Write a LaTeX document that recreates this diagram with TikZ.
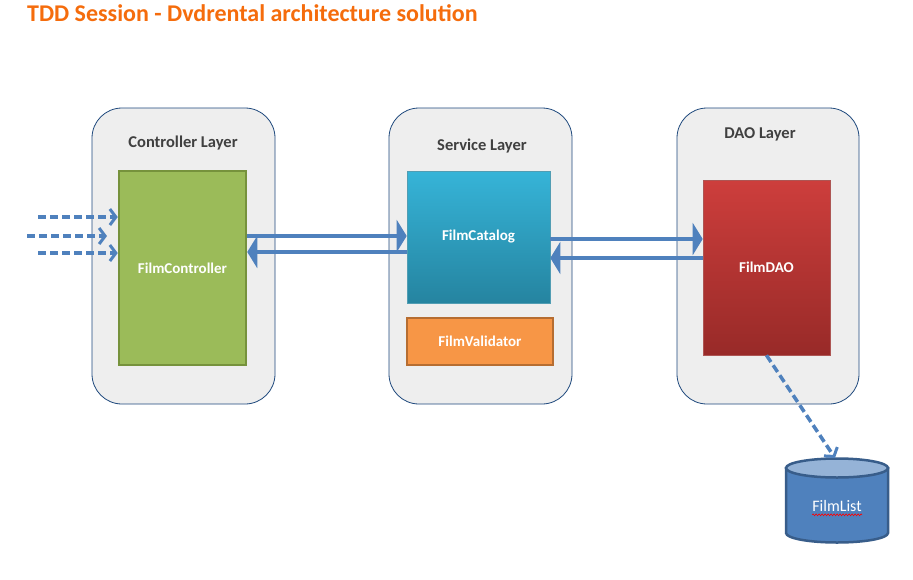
\documentclass[tikz,border=0pt]{standalone}
\usepackage{fontspec}
\setmainfont{Carlito}
\usetikzlibrary{arrows.meta,decorations.pathmorphing}
\definecolor{titleorange}{RGB}{245,108,12}
\definecolor{layerfill}{RGB}{238,238,238}
\definecolor{layerborder}{RGB}{31,73,125}
\definecolor{labelgray}{RGB}{64,64,64}
\definecolor{greenfill}{RGB}{155,187,89}
\definecolor{greenborder}{RGB}{118,146,60}
\definecolor{cattop}{RGB}{54,180,216}
\definecolor{catbot}{RGB}{37,132,160}
\definecolor{orangefill}{RGB}{247,150,70}
\definecolor{orangeborder}{RGB}{182,109,49}
\definecolor{daotop}{RGB}{205,62,60}
\definecolor{daobot}{RGB}{152,42,40}
\definecolor{arrowblue}{RGB}{79,129,189}
\definecolor{dbblue}{RGB}{79,129,189}
\definecolor{dblight}{RGB}{149,179,215}
\definecolor{dbborder}{RGB}{56,93,138}
\tikzset{
  layerbox/.style={draw=layerborder, line width=0.8pt, fill=layerfill, rounded corners=30pt, inner sep=0pt},
  layerlabel/.style={text=labelgray, font=\bfseries\fontsize{16.5}{19}\selectfont, inner sep=0pt},
  boxtext/.style={text=white, font=\bfseries\fontsize{15}{18}\selectfont},
  greenbox/.style={draw=greenborder, line width=2.5pt, fill=greenfill, boxtext},
  catbox/.style={top color=cattop, bottom color=catbot, draw=catbot!80!white, line width=0.6pt, boxtext},
  orangebox/.style={draw=orangeborder, line width=2.5pt, fill=orangefill, boxtext},
  daobox/.style={top color=daotop, bottom color=daobot, draw=daobot!80!white, line width=0.6pt, boxtext},
  solidarrow/.style={draw=arrowblue, line width=3.5pt, -{Triangle[length=10pt,width=32pt]}},
  dasharrow/.style={draw=arrowblue, line width=3.5pt, dash pattern=on 8pt off 4pt, -{Straight Barb[length=6pt,width=16pt,line width=3pt]}},
}
\begin{document}
\begin{tikzpicture}[x=1pt,y=-1pt]
\useasboundingbox (0,0) rectangle (913,579);
\fill[white] (0,0) rectangle (913,579);

\node[anchor=west, text=titleorange, font=\bfseries\fontsize{24}{28}\selectfont, inner sep=0pt] (title) at (27,13) {TDD Session - Dvdrental architecture solution};

% layers
\node[layerbox, minimum width=183pt, minimum height=296pt] (ctrlL) at (183.5,256) {};
\node[layerbox, minimum width=183pt, minimum height=296pt] (servL) at (480.5,256) {};
\node[layerbox, minimum width=182pt, minimum height=296pt] (daoL) at (768,256) {};
\node[layerlabel] (ctrlT) at (183,143) {Controller Layer};
\node[layerlabel] (servT) at (482,146) {Service Layer};
\node[layerlabel] (daoT) at (760,134) {DAO Layer};

% components
\node[greenbox, minimum width=127pt, minimum height=194pt] (ctrl) at (182.5,268) {FilmController};
\node[catbox, minimum width=143pt, minimum height=132pt] (cat) at (478.5,237) {FilmCatalog};
\node[orangebox, minimum width=146pt, minimum height=47pt] (val) at (480,341.5) {FilmValidator};
\node[daobox, minimum width=127pt, minimum height=175pt] (dao) at (766.5,267.5) {FilmDAO};

% database
\draw[line width=2.5pt, draw=dbborder, fill=dbblue] (786,468) -- (786,533) arc[start angle=180, end angle=0, x radius=51, y radius=9.5] -- (888,468) -- cycle;
\draw[line width=2.5pt, draw=dbborder, fill=dblight] (837,468) ellipse[x radius=51, y radius=9.5];
\node[text=white, font=\fontsize{16}{19}\selectfont, inner sep=0pt] (db) at (837,506) {FilmList};
\draw[red, line width=0.6pt, decorate, decoration={snake, amplitude=0.9pt, segment length=3pt}] (db.south west) ++(0,3) -- ++(50,0);
\coordinate (dbtop) at (835,458);

% levels
\coordinate (r1) at (0,236);
\coordinate (r2) at (0,252);
\coordinate (r3) at (0,239);
\coordinate (r4) at (0,258);
\coordinate (in1) at (38,217);
\coordinate (in2) at (27,236);
\coordinate (in2e) at (107,236);
\coordinate (in3) at (38,253);

% connectors
\draw[solidarrow] (ctrl.east |- r1) -- (cat.west |- r1);
\draw[solidarrow] (cat.west |- r2) -- (ctrl.east |- r2);
\draw[solidarrow] (cat.east |- r3) -- (dao.west |- r3);
\draw[solidarrow] (dao.west |- r4) -- (cat.east |- r4);

\draw[dasharrow] (in1) -- (in1 -| ctrl.west);
\draw[dasharrow] (in2) -- (in2e);
\draw[dasharrow] (in3) -- (in3 -| ctrl.west);
\draw[dasharrow] (dao.south) -- (dbtop);
\end{tikzpicture}
\end{document}
